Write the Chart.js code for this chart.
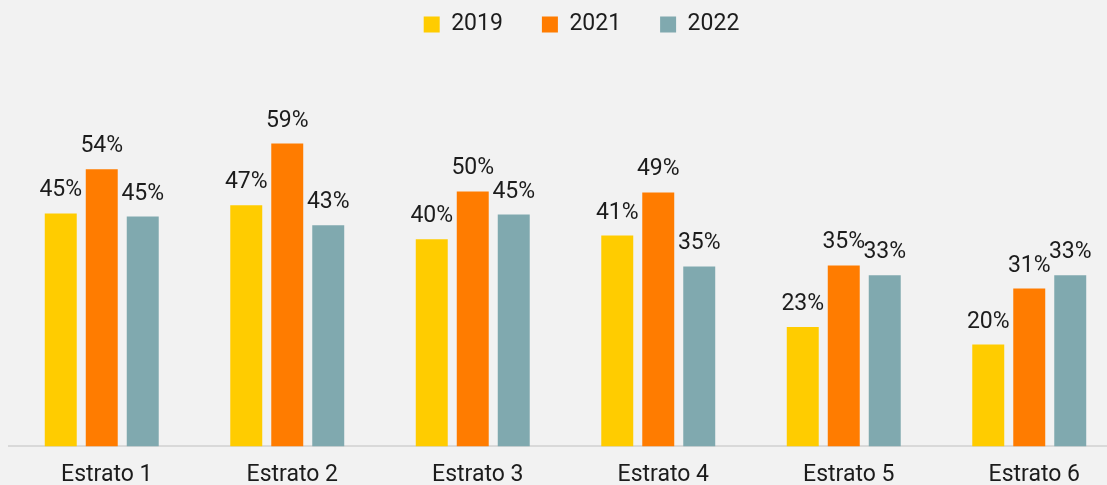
<!DOCTYPE html>
<html>
<head>
<meta charset="utf-8">
<script src="https://cdn.jsdelivr.net/npm/chart.js@4/dist/chart.umd.min.js"></script>
<style>
html,body{margin:0;padding:0;background:#f2f2f2;overflow:hidden;}
#wrap{width:1107px;height:485px;position:relative;overflow:hidden;}
#c{position:absolute;left:0;top:0;}
</style>
</head>
<body>
<div id="wrap"><canvas id="c" width="1140" height="504"></canvas></div>
<script>
const categories = ["Estrato 1","Estrato 2","Estrato 3","Estrato 4","Estrato 5","Estrato 6"];
const seriesNames = ["2019","2021","2022"];
const values2019 = [45.3, 46.9, 40.3, 41.0, 23.2, 19.8];
const values2021 = [53.9, 58.9, 49.6, 49.4, 35.2, 30.7];
const values2022 = [44.7, 43.0, 45.1, 35.0, 33.3, 33.3];
const colors = ["#FFCC00","#FF7C00","#80A9AF"];

const FONT = "Roboto, 'DejaVu Sans', sans-serif";
const TEXT = '#1c1c1c';

const bgPlugin = {
  id:'bg',
  beforeDraw(chart){
    const ctx = chart.ctx;
    ctx.save();
    ctx.fillStyle = '#f2f2f2';
    ctx.fillRect(0,0,chart.width,chart.height);
    ctx.restore();
  }
};
const legendFix = {
  id:'legendFix',
  beforeLayout(chart){
    const lg = chart.legend;
    if(lg && !lg._patched){
      const orig = lg.fit.bind(lg);
      lg.fit = function(){ orig(); this.height = 50; };
      lg._patched = true;
    }
  },
  afterLayout(chart){
    const lg = chart.legend;
    if(lg){
      lg.top = -26; lg.bottom = 70;
      lg.left += 16; lg.right += 16;
    }
  }
};
const labelPlugin = {
  id:'barLabels',
  afterDatasetsDraw(chart){
    const ctx = chart.ctx;
    ctx.save();
    ctx.font = "23px " + FONT;
    ctx.fillStyle = TEXT;
    ctx.textAlign = 'center';
    ctx.textBaseline = 'alphabetic';
    chart.data.datasets.forEach((ds,i)=>{
      const meta = chart.getDatasetMeta(i);
      meta.data.forEach((bar,j)=>{
        ctx.fillText(Math.round(ds.data[j]) + '%', bar.x, bar.y - 17);
      });
    });
    ctx.restore();
  }
};

new Chart(document.getElementById('c'), {
  type:'bar',
  data:{
    labels: categories,
    datasets:[
      {label:seriesNames[0], data:values2019, backgroundColor:colors[0]},
      {label:seriesNames[1], data:values2021, backgroundColor:colors[1]},
      {label:seriesNames[2], data:values2022, backgroundColor:colors[2]}
    ]
  },
  options:{
    responsive:false,
    animation:false,
    devicePixelRatio:1,
    layout:{padding:{left:9, right:18, top:0, bottom:0}},
    datasets:{bar:{categoryPercentage:0.663, barPercentage:0.78}},
    plugins:{
      legend:{
        position:'top',
        labels:{boxWidth:16, boxHeight:16, padding:39, color:TEXT, font:{family:FONT, size:23}}
      },
      tooltip:{enabled:false}
    },
    scales:{
      x:{
        grid:{display:false, drawTicks:false},
        border:{display:true, color:'#d9d9d9', width:2},
        ticks:{color:TEXT, padding:15, labelOffset:5, font:{family:FONT, size:23}}
      },
      y:{display:false, min:0, max:77.1}
    }
  },
  plugins:[bgPlugin, legendFix, labelPlugin]
});
</script>
</body>
</html>
